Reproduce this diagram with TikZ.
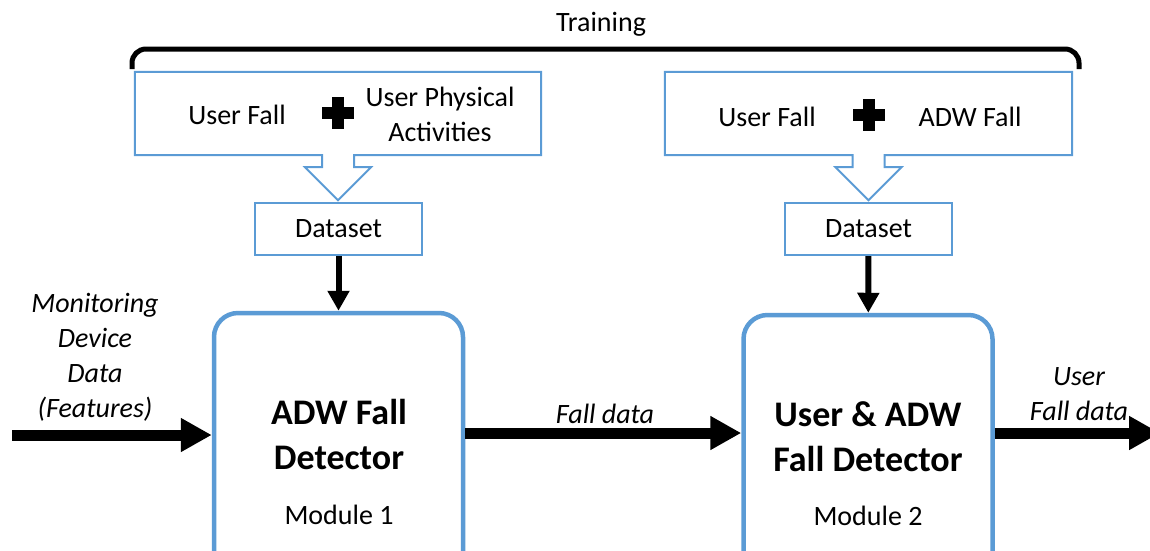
\documentclass[tikz,border=0pt]{standalone}
\usepackage{fontspec}
\setmainfont{Carlito}
\usetikzlibrary{arrows.meta}
\definecolor{boxblue}{HTML}{5B9BD5}

\begin{document}
\begin{tikzpicture}[x=1pt,y=-1pt,
	every node/.style={font=\fontsize{28}{35}\selectfont, inner sep=0pt},
	srcbox/.style={minimum height=83pt},
	databox/.style={draw=boxblue, line width=2pt, minimum width=167pt, minimum height=52pt},
	detbox/.style={draw=boxblue, line width=4.5pt, rounded corners=24pt, minimum width=249pt, minimum height=290pt},
	dettitle/.style={font=\fontsize{36}{45}\selectfont\bfseries, align=center},
	plussign/.style={minimum size=32pt, path picture={
		\fill ([xshift=-16pt,yshift=-6pt]path picture bounding box.center) rectangle ([xshift=16pt,yshift=6pt]path picture bounding box.center);
		\fill ([xshift=-6pt,yshift=-16pt]path picture bounding box.center) rectangle ([xshift=6pt,yshift=16pt]path picture bounding box.center);}},
	bigarrow/.style={line width=11pt, -{Triangle[length=31pt,width=32pt]}},
	feedarrow/.style={line width=6pt, -{Triangle[length=20pt,width=21pt]}}]
\clip (0,0) rectangle (1150,550);

\path (601,24) node (train) {Training}
		(338,113.5) node[srcbox, minimum width=406pt] (src1) {}
		(868.5,113.5) node[srcbox, minimum width=407pt] (src2) {}
		(237,115) node (uf1) {User Fall}
		(338,113) node[plussign] (plus1) {}
		(440,114) node[align=center] (upa) {User Physical\\Activities}
		(767,117) node (uf2) {User Fall}
		(869,115) node[plussign] (plus2) {}
		(970,117) node (adw) {ADW Fall}
		(338.5,229) node[databox] (ds1) {Dataset}
		(868.5,229) node[databox] (ds2) {Dataset}
		(338.5,458) node[detbox] (det1) {}
		(868,460) node[detbox] (det2) {}
		(339,434) node[dettitle] (t1) {ADW Fall\\Detector}
		(339,515) node (m1) {Module 1}
		(868,437) node[dettitle] (t2) {User \& ADW\\Fall Detector}
		(868,516) node (m2) {Module 2}
		(95,357) node[align=center, font=\fontsize{28}{35}\selectfont\itshape] (mon) {Monitoring\\Device\\Data\\(Features)}
		(605,414) node[font=\fontsize{28}{35}\selectfont\itshape] (fd) {Fall data}
		(1079,394) node[align=center, font=\fontsize{28}{35}\selectfont\itshape] (ufd) {User\\Fall data}
		;
\coordinate (inp) at (12,435);
\coordinate (outp) at (1160,433);

% training brace
\draw[line width=5pt, rounded corners=14pt] (132,69) -- (132,49) -- (1079,49) -- (1079,69);

% source boxes with hollow arrow into the dataset
\foreach \s in {src1,src2}
	\draw[boxblue, line width=2pt] ([xshift=16pt]\s.south) -- ++(0,12) -- ++(17,0) -- ++(-33,33) -- ++(-33,-33) -- ++(17,0) -- ++(0,-12)
		-- (\s.south west) -- (\s.north west) -- (\s.north east) -- (\s.south east) -- cycle;

\draw[feedarrow] (ds1) -- (det1);
\draw[feedarrow] (ds2) -- (det2);

\draw[bigarrow] (inp) -- (inp -| det1.west);
\draw[bigarrow] (det1.east |- outp) -- (det2.west |- outp);
\draw[bigarrow] (det2.east |- outp) -- (outp);
\end{tikzpicture}
\end{document}
